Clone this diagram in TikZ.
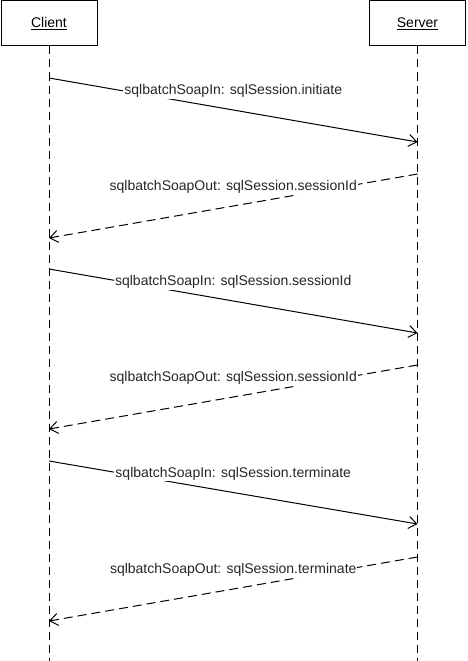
\documentclass[tikz,border=0pt]{standalone}
\usepackage{fontspec}
\setmainfont{Liberation Sans}
\usetikzlibrary{arrows.meta}

\begin{document}
\begin{tikzpicture}[x=1pt, y=-1pt,
    box/.style={draw, line width=1pt, minimum width=96pt, minimum height=45pt, font=\fontsize{14}{16}\selectfont},
    lifeline/.style={line width=1pt, dash pattern=on 8pt off 5pt},
    msg/.style={line width=1pt, -{Straight Barb[length=8pt,width=12pt]}},
    reply/.style={msg, dash pattern=on 9pt off 5pt},
    lbl/.style={midway, yshift=19pt, fill=white, inner sep=1pt, text=black!85, font=\fontsize{14}{16}\selectfont}]
    \useasboundingbox (0,0) rectangle (467,661);

    % participants
    \node[box] (client) at (49,23.5) {\underline{Client}};
    \node[box] (server) at (417.5,23.5) {\underline{Server}};
    \coordinate (clientend) at (49,661);
    \coordinate (serverend) at (417.5,661);
    \draw[lifeline] (client.south) -- (clientend);
    \draw[lifeline] (server.south) -- (serverend);

    % message ends on the lifelines
    \foreach \i/\y in {1/78, 2/238, 3/269, 4/429, 5/461, 6/621}
        \coordinate (c\i) at (49,\y);
    \foreach \i/\y in {1/142, 2/174, 3/333, 4/365, 5/524, 6/557}
        \coordinate (s\i) at (417.5,\y);

    \draw[msg] (c1) -- (s1) node[lbl] {sqlbatchSoapIn: sqlSession.initiate};
    \draw[reply] (s2) -- (c2) node[lbl] {sqlbatchSoapOut: sqlSession.sessionId};
    \draw[msg] (c3) -- (s3) node[lbl] {sqlbatchSoapIn: sqlSession.sessionId};
    \draw[reply] (s4) -- (c4) node[lbl] {sqlbatchSoapOut: sqlSession.sessionId};
    \draw[msg] (c5) -- (s5) node[lbl] {sqlbatchSoapIn: sqlSession.terminate};
    \draw[reply] (s6) -- (c6) node[lbl] {sqlbatchSoapOut: sqlSession.terminate};
\end{tikzpicture}
\end{document}
